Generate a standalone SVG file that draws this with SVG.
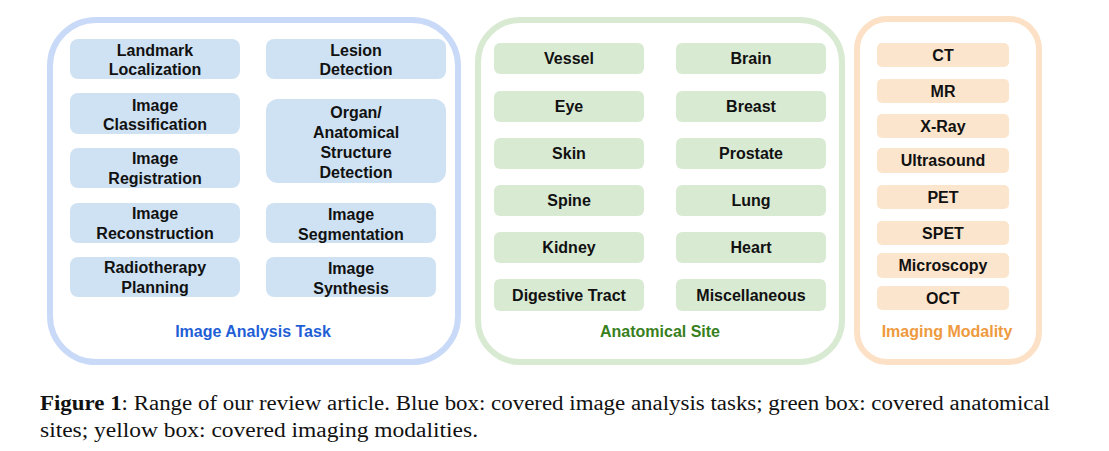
<svg xmlns="http://www.w3.org/2000/svg" width="1109" height="451" viewBox="0 0 1109 451">
<style>
.lbl{font-family:"Liberation Sans",Arial,sans-serif;font-weight:bold;font-size:16px;fill:#111;text-anchor:middle}
.ttl{font-family:"Liberation Sans",Arial,sans-serif;font-weight:bold;font-size:16px;text-anchor:middle}
.bb{fill:#cfe2f3}
.gb{fill:#d9ead3}
.ob{fill:#fce5cd}
.cap{font-family:"Liberation Serif","Times New Roman",serif;font-size:20px;fill:#111}
</style>
<rect width="1109" height="451" fill="#fff"/>
<g id="group-blue">
<rect x="50" y="20" width="408" height="342" rx="46" fill="none" stroke="#c9daf8" stroke-width="6"/>
<text class="ttl" x="253" y="337" fill="#1f5fd6">Image Analysis Task</text>
</g>
<g id="group-green">
<rect x="478" y="20" width="364" height="342" rx="42" fill="none" stroke="#d9ead3" stroke-width="6"/>
<text class="ttl" x="660" y="337" fill="#38801d">Anatomical Site</text>
</g>
<g id="group-orange">
<rect x="857" y="19" width="182" height="343" rx="30" fill="none" stroke="#fce1c6" stroke-width="6"/>
<text class="ttl" x="947" y="337" fill="#ee9a3e">Imaging Modality</text>
</g>
<g id="n-landmark"><rect class="bb" x="70" y="39" width="170" height="40" rx="8"/><text class="lbl" x="155" y="56">Landmark</text><text class="lbl" x="155" y="75">Localization</text></g>
<g id="n-classification"><rect class="bb" x="70" y="93" width="170" height="41" rx="8"/><text class="lbl" x="155" y="111">Image</text><text class="lbl" x="155" y="130">Classification</text></g>
<g id="n-registration"><rect class="bb" x="70" y="148" width="170" height="40" rx="8"/><text class="lbl" x="155" y="164">Image</text><text class="lbl" x="155" y="184">Registration</text></g>
<g id="n-reconstruction"><rect class="bb" x="70" y="203" width="170" height="40" rx="8"/><text class="lbl" x="155" y="219">Image</text><text class="lbl" x="155" y="239">Reconstruction</text></g>
<g id="n-radiotherapy"><rect class="bb" x="70" y="257" width="170" height="40" rx="8"/><text class="lbl" x="155" y="273">Radiotherapy</text><text class="lbl" x="155" y="293">Planning</text></g>
<g id="n-lesion"><rect class="bb" x="266" y="39" width="180" height="40" rx="8"/><text class="lbl" x="356" y="56">Lesion</text><text class="lbl" x="356" y="75">Detection</text></g>
<g id="n-organ"><rect class="bb" x="266" y="99" width="180" height="84" rx="12"/><text class="lbl" x="356" y="118">Organ/</text><text class="lbl" x="356" y="138">Anatomical</text><text class="lbl" x="356" y="158">Structure</text><text class="lbl" x="356" y="178">Detection</text></g>
<g id="n-segmentation"><rect class="bb" x="266" y="203" width="170" height="40" rx="8"/><text class="lbl" x="351" y="220">Image</text><text class="lbl" x="351" y="240">Segmentation</text></g>
<g id="n-synthesis"><rect class="bb" x="266" y="257" width="170" height="40" rx="8"/><text class="lbl" x="351" y="274">Image</text><text class="lbl" x="351" y="294">Synthesis</text></g>
<g id="n-vessel"><rect class="gb" x="494" y="43" width="150" height="31" rx="6"/><text class="lbl" x="569" y="64">Vessel</text></g>
<g id="n-eye"><rect class="gb" x="494" y="91" width="150" height="31" rx="6"/><text class="lbl" x="569" y="112">Eye</text></g>
<g id="n-skin"><rect class="gb" x="494" y="138" width="150" height="31" rx="6"/><text class="lbl" x="569" y="159">Skin</text></g>
<g id="n-spine"><rect class="gb" x="494" y="185" width="150" height="31" rx="6"/><text class="lbl" x="569" y="206">Spine</text></g>
<g id="n-kidney"><rect class="gb" x="494" y="232" width="150" height="31" rx="6"/><text class="lbl" x="569" y="253">Kidney</text></g>
<g id="n-digestive"><rect class="gb" x="494" y="279" width="150" height="32" rx="6"/><text class="lbl" x="569" y="301">Digestive Tract</text></g>
<g id="n-brain"><rect class="gb" x="676" y="43" width="150" height="31" rx="6"/><text class="lbl" x="751" y="64">Brain</text></g>
<g id="n-breast"><rect class="gb" x="676" y="91" width="150" height="31" rx="6"/><text class="lbl" x="751" y="112">Breast</text></g>
<g id="n-prostate"><rect class="gb" x="676" y="138" width="150" height="31" rx="6"/><text class="lbl" x="751" y="159">Prostate</text></g>
<g id="n-lung"><rect class="gb" x="676" y="185" width="150" height="31" rx="6"/><text class="lbl" x="751" y="206">Lung</text></g>
<g id="n-heart"><rect class="gb" x="676" y="232" width="150" height="31" rx="6"/><text class="lbl" x="751" y="253">Heart</text></g>
<g id="n-misc"><rect class="gb" x="676" y="279" width="150" height="32" rx="6"/><text class="lbl" x="751" y="301">Miscellaneous</text></g>
<g id="n-ct"><rect class="ob" x="877" y="43" width="132" height="24" rx="5"/><text class="lbl" x="943" y="61">CT</text></g>
<g id="n-mr"><rect class="ob" x="877" y="79" width="132" height="24" rx="5"/><text class="lbl" x="943" y="97">MR</text></g>
<g id="n-xray"><rect class="ob" x="877" y="114" width="132" height="24" rx="5"/><text class="lbl" x="943" y="132">X-Ray</text></g>
<g id="n-us"><rect class="ob" x="877" y="148" width="132" height="25" rx="5"/><text class="lbl" x="943" y="166">Ultrasound</text></g>
<g id="n-pet"><rect class="ob" x="877" y="185" width="132" height="24" rx="5"/><text class="lbl" x="943" y="203">PET</text></g>
<g id="n-spet"><rect class="ob" x="877" y="221" width="132" height="24" rx="5"/><text class="lbl" x="943" y="239">SPET</text></g>
<g id="n-micro"><rect class="ob" x="877" y="253" width="132" height="25" rx="5"/><text class="lbl" x="943" y="271">Microscopy</text></g>
<g id="n-oct"><rect class="ob" x="877" y="286" width="132" height="24" rx="5"/><text class="lbl" x="943" y="304">OCT</text></g>
<g id="connectors"></g>
<g id="caption">
<text class="cap" x="40" y="410" textLength="1010" lengthAdjust="spacingAndGlyphs"><tspan font-weight="bold">Figure 1</tspan>: Range of our review article. Blue box: covered image analysis tasks; green box: covered anatomical</text>
<text class="cap" x="40" y="437" textLength="438" lengthAdjust="spacingAndGlyphs">sites; yellow box: covered imaging modalities.</text>
</g>
</svg>
